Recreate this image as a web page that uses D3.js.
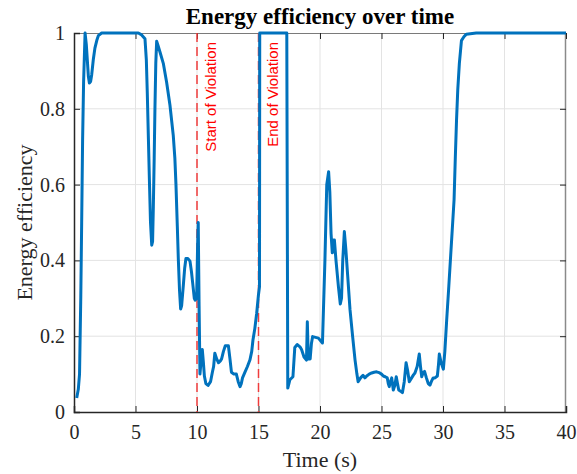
<!DOCTYPE html>
<html>
<head>
<meta charset="utf-8">
<script src="https://cdn.jsdelivr.net/npm/d3@7"></script>
<style>
  body { margin: 0; background: #fff; }
  svg { display: block; }
</style>
</head>
<body>
<div id="vis"></div>
<script>
// values
var timeS = [0.22, 0.35, 0.45, 0.55, 0.62, 0.70, 0.78, 0.90, 1.0, 1.08, 1.17, 1.25, 1.35, 1.44, 1.57, 1.7, 1.85, 1.98, 2.25,
  5.23, 5.5, 5.77, 5.88, 5.96, 6.05, 6.12, 6.22, 6.32, 6.39, 6.45, 6.52, 6.58, 6.65, 6.72, 6.85, 6.99, 7.26, 7.53, 7.8,
  8.07, 8.2, 8.29, 8.4, 8.48, 8.58, 8.67, 8.75, 8.89, 9.0, 9.1, 9.25, 9.43, 9.55, 9.65, 9.78, 9.85, 9.97, 10.05, 10.1,
  10.17, 10.24, 10.32, 10.43, 10.52, 10.6, 10.72, 10.9, 11.1, 11.25, 11.35, 11.45, 11.6, 11.75, 11.9, 12.0, 12.15, 12.3,
  12.55, 12.68, 12.8, 13.0, 13.2, 13.35, 13.5, 13.6, 13.7, 13.9, 14.1, 14.3, 14.45, 14.55, 14.7, 14.85, 15.0, 15.08,
  15.1, 17.3, 17.38, 17.55, 17.8, 17.95, 18.15, 18.37, 18.5, 18.7, 18.9, 18.97, 19.05, 19.2, 19.3, 19.4, 19.87, 20.2,
  20.4, 20.55, 20.7, 20.8, 20.9, 21.0, 21.1, 21.17, 21.3, 21.5, 21.65, 21.75, 21.85, 21.98, 22.1, 22.25, 22.44, 22.65,
  22.85, 23.0, 23.1, 23.3, 23.5, 23.65, 23.8, 24.0, 24.2, 24.4, 24.6, 24.8, 25.0, 25.15, 25.3, 25.47, 25.55, 25.63,
  25.73, 25.83, 25.96, 26.08, 26.2, 26.3, 26.4, 26.55, 26.7, 26.85, 27.0, 27.12, 27.26, 27.45, 27.6, 27.72, 27.9,
  28.07, 28.17, 28.27, 28.4, 28.5, 28.65, 28.8, 28.94, 29.05, 29.2, 29.35, 29.54, 29.62, 29.7, 29.85, 30.03, 30.15,
  30.3, 30.45, 30.6, 30.75, 30.9, 31.0, 31.1, 31.2, 31.33, 31.5, 31.7, 31.9, 32.7, 40];

var efficiency = [0.037, 0.06, 0.10, 0.30, 0.49, 0.72, 0.87, 1.0, 0.97, 0.93, 0.885, 0.868, 0.872, 0.89, 0.93, 0.96, 0.98, 0.993, 1.0,
  1.0, 0.995, 0.985, 0.93, 0.84, 0.72, 0.625, 0.50, 0.44, 0.45, 0.54, 0.67, 0.80, 0.92, 0.978, 0.965, 0.95, 0.92, 0.87, 0.81,
  0.73, 0.67, 0.60, 0.49, 0.405, 0.32, 0.272, 0.28, 0.335, 0.38, 0.405, 0.405, 0.398, 0.37, 0.34, 0.30, 0.295, 0.30, 0.44, 0.5,
  0.28, 0.10, 0.13, 0.165, 0.13, 0.095, 0.075, 0.07, 0.08, 0.105, 0.12, 0.155, 0.14, 0.13, 0.135, 0.14, 0.16, 0.175,
  0.175, 0.14, 0.105, 0.10, 0.10, 0.08, 0.067, 0.075, 0.09, 0.105, 0.12, 0.137, 0.16, 0.19, 0.22, 0.26, 0.31, 0.33,
  1.0, 1.0, 0.063, 0.085, 0.093, 0.17, 0.178, 0.172, 0.165, 0.145, 0.137, 0.238, 0.14, 0.14, 0.18, 0.199, 0.195, 0.182,
  0.40, 0.60, 0.634, 0.58, 0.47, 0.42, 0.454, 0.454, 0.40, 0.33, 0.285, 0.30, 0.40, 0.476, 0.43, 0.36, 0.27, 0.20,
  0.137, 0.10, 0.08, 0.09, 0.097, 0.09, 0.095, 0.10, 0.103, 0.105, 0.106, 0.104, 0.1, 0.095, 0.093, 0.09, 0.075, 0.067,
  0.08, 0.09, 0.058, 0.07, 0.093, 0.075, 0.058, 0.055, 0.051, 0.08, 0.13, 0.11, 0.08, 0.09, 0.098, 0.103, 0.12,
  0.153, 0.12, 0.093, 0.105, 0.107, 0.09, 0.075, 0.071, 0.08, 0.09, 0.09, 0.095, 0.12, 0.153, 0.13, 0.113, 0.16,
  0.243, 0.32, 0.40, 0.48, 0.56, 0.67, 0.77, 0.85, 0.92, 0.98, 0.99, 0.997, 1.0, 1.0];

var xTicks = [0, 5, 10, 15, 20, 25, 30, 35, 40];
var yTicks = [0, 0.2, 0.4, 0.6, 0.8, 1];
var markers = [
  { t: 10, label: 'Start of Violation' },
  { t: 15, label: 'End of Violation' }
];

// canvas
var width = 577, height = 474;
var margin = { left: 74, right: 11, top: 33, bottom: 62 };
var innerW = width - margin.left - margin.right;
var innerH = height - margin.top - margin.bottom;

var serif = '"Liberation Serif", "Times New Roman", serif';
var sans = '"Liberation Sans", Arial, sans-serif';

var svg = d3.select('#vis').append('svg')
  .attr('width', width)
  .attr('height', height);

var g = svg.append('g')
  .attr('transform', 'translate(' + margin.left + ',' + margin.top + ')');

var x = d3.scaleLinear().domain([0, 40]).range([0, innerW]);
var y = d3.scaleLinear().domain([0, 1]).range([innerH, 0]);

// grid
g.append('g').selectAll('line')
  .data(xTicks.slice(1, -1))
  .enter().append('line')
  .attr('x1', function(d) { return x(d); })
  .attr('x2', function(d) { return x(d); })
  .attr('y1', 0).attr('y2', innerH)
  .attr('stroke', '#e3e3e3').attr('stroke-width', 1);

g.append('g').selectAll('line')
  .data(yTicks.slice(1, -1))
  .enter().append('line')
  .attr('y1', function(d) { return y(d); })
  .attr('y2', function(d) { return y(d); })
  .attr('x1', 0).attr('x2', innerW)
  .attr('stroke', '#e3e3e3').attr('stroke-width', 1);

// box (top & right drawn lighter, like the picture)
g.append('line').attr('x1', 0).attr('x2', innerW).attr('y1', 0.5).attr('y2', 0.5)
  .attr('stroke', '#7a7a7a').attr('stroke-width', 1);
g.append('line').attr('x1', innerW - 0.5).attr('x2', innerW - 0.5).attr('y1', 0).attr('y2', innerH)
  .attr('stroke', '#8a8a8a').attr('stroke-width', 1.5);

// axes with inward ticks
var xAxis = g.append('g')
  .attr('transform', 'translate(0,' + innerH + ')')
  .call(d3.axisBottom(x).tickValues(xTicks).tickSize(-6).tickPadding(13).tickFormat(d3.format('d')));
var xAxisTop = g.append('g')
  .call(d3.axisTop(x).tickValues(xTicks).tickSize(-6).tickFormat(''));
var yAxis = g.append('g')
  .call(d3.axisLeft(y).tickValues(yTicks).tickSize(-6).tickPadding(9).tickFormat(function(d) { return d3.format('~g')(d); }));
var yAxisRight = g.append('g')
  .attr('transform', 'translate(' + innerW + ',0)')
  .call(d3.axisRight(y).tickValues(yTicks).tickSize(-6).tickFormat(''));

[xAxis, yAxis].forEach(function(a) {
  a.attr('font-family', null).attr('font-size', null);
  a.select('.domain').attr('stroke', '#262626').attr('stroke-width', 1.5);
  a.selectAll('.tick line').attr('stroke', '#262626');
  a.selectAll('text').attr('fill', '#262626')
    .style('font-family', serif).style('font-size', '20px');
});
[xAxisTop, yAxisRight].forEach(function(a) {
  a.select('.domain').remove();
  a.selectAll('.tick line').attr('stroke', '#262626');
});

// violation markers
var mk = g.append('g').selectAll('g')
  .data(markers)
  .enter().append('g');

mk.append('line')
  .attr('x1', function(d) { return x(d.t); })
  .attr('x2', function(d) { return x(d.t); })
  .attr('y1', 0).attr('y2', innerH)
  .attr('stroke', '#f03c3c')
  .attr('stroke-width', 1.5)
  .attr('stroke-dasharray', '9,5');

mk.append('text')
  .attr('transform', function(d) { return 'translate(' + (x(d.t) + 19) + ',9) rotate(-90)'; })
  .attr('text-anchor', 'end')
  .attr('fill', '#ff0000')
  .style('font-family', sans)
  .style('font-size', '15px')
  .text(function(d) { return d.label; });

// efficiency line
var points = timeS.map(function(t, i) { return { t: t, v: efficiency[i] }; });

var line = d3.line()
  .x(function(d) { return x(d.t); })
  .y(function(d) { return y(d.v); });

g.append('path')
  .datum(points)
  .attr('fill', 'none')
  .attr('stroke', '#0072bd')
  .attr('stroke-width', 3)
  .attr('stroke-linejoin', 'round')
  .attr('d', line);

// labels
svg.append('text')
  .attr('x', margin.left + innerW / 2)
  .attr('y', 24)
  .attr('text-anchor', 'middle')
  .style('font-family', serif)
  .style('font-size', '23px')
  .style('font-weight', 'bold')
  .attr('fill', '#000')
  .text('Energy efficiency over time');

svg.append('text')
  .attr('x', margin.left + innerW / 2)
  .attr('y', 467)
  .attr('text-anchor', 'middle')
  .style('font-family', serif)
  .style('font-size', '22px')
  .attr('fill', '#262626')
  .text('Time (s)');

svg.append('text')
  .attr('transform', 'translate(32,' + (margin.top + innerH / 2) + ') rotate(-90)')
  .attr('text-anchor', 'middle')
  .style('font-family', serif)
  .style('font-size', '22px')
  .attr('fill', '#262626')
  .text('Energy efficiency');
</script>
</body>
</html>
